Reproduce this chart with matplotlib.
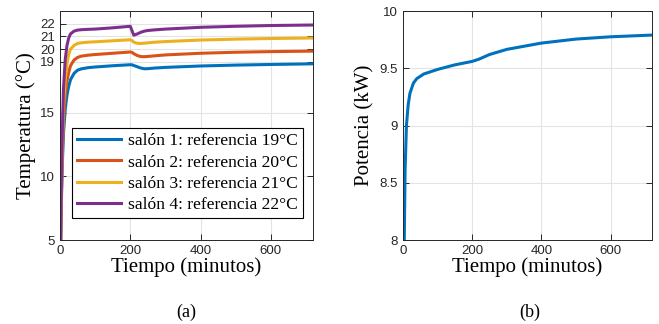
# Temperaturas de los salones y potencia total (a) y (b)

import numpy as np
import matplotlib.pyplot as plt

# tiempo (minutos) para las temperaturas
t_temp = [2, 4, 7, 10, 15, 20, 25, 30, 40, 50, 60, 80, 100, 150, 200,
          205, 210, 220, 230, 240, 250, 270, 300, 400, 500, 600, 720]

salon1 = [5, 8.0, 11.2, 13.4, 15.3, 16.4, 17.1, 17.6, 18.1, 18.35, 18.45, 18.55, 18.6, 18.7, 18.78,
          18.77, 18.72, 18.62, 18.52, 18.46, 18.47, 18.52, 18.57, 18.68, 18.75, 18.8, 18.85]
salon2 = [5, 8.5, 12.0, 14.5, 16.4, 17.5, 18.2, 18.7, 19.15, 19.35, 19.45, 19.53, 19.58, 19.68, 19.78,
          19.75, 19.65, 19.5, 19.42, 19.41, 19.43, 19.48, 19.55, 19.68, 19.76, 19.81, 19.85]
salon3 = [5, 9.0, 12.8, 15.6, 17.6, 18.9, 19.6, 20.0, 20.3, 20.45, 20.5, 20.55, 20.58, 20.66, 20.74,
          20.68, 20.55, 20.46, 20.45, 20.47, 20.5, 20.55, 20.6, 20.72, 20.79, 20.84, 20.88]
salon4 = [5, 9.6, 13.8, 16.9, 19.2, 20.3, 20.9, 21.2, 21.42, 21.5, 21.53, 21.56, 21.58, 21.68, 21.8,
          21.45, 21.1, 21.2, 21.33, 21.42, 21.47, 21.52, 21.58, 21.72, 21.8, 21.86, 21.9]

etiquetas = ['salón 1: referencia 19°C', 'salón 2: referencia 20°C',
             'salón 3: referencia 21°C', 'salón 4: referencia 22°C']
colores = ['#0072BD', '#D95319', '#EDB120', '#7E2F8E']

# potencia total
t_pot = [3, 6, 10, 15, 20, 30, 40, 60, 80, 100, 150, 200, 220, 250, 300, 400, 500, 600, 720]
potencia = [7.8, 8.6, 9.0, 9.18, 9.28, 9.37, 9.41, 9.45, 9.47, 9.49, 9.53, 9.56, 9.58, 9.62,
            9.665, 9.72, 9.755, 9.775, 9.79]

serif = 'Liberation Serif'
sans = 'Liberation Sans'
gris = '#262626'


def estilo(ax):
    ax.grid(True, color='#e3e3e3', linewidth=0.8)
    ax.set_axisbelow(True)
    ax.tick_params(direction='in', top=True, right=True, length=4, width=0.7,
                   colors=gris, labelsize=9.5)
    for lab in ax.get_xticklabels() + ax.get_yticklabels():
        lab.set_fontfamily(sans)
    for s in ax.spines.values():
        s.set_color(gris)
        s.set_linewidth(0.7)


fig = plt.figure(figsize=(6.59, 3.24), dpi=100)

# (a) temperaturas
ax1 = fig.add_axes([0.091, 0.259, 0.384, 0.707])
for y, lab, c in zip([salon1, salon2, salon3, salon4], etiquetas, colores):
    ax1.plot(t_temp, y, color=c, linewidth=2.2, label=lab)
ax1.set_xlim(0, 720)
ax1.set_ylim(5, 23)
ax1.set_xticks([0, 200, 400, 600])
ax1.set_yticks([5, 10, 15, 19, 20, 21, 22])
estilo(ax1)
ax1.set_xlabel('Tiempo (minutos)', fontfamily=serif, fontsize=15, labelpad=0)
ax1.set_ylabel('Temperatura (°C)', fontfamily=serif, fontsize=15, labelpad=3)
leg = ax1.legend(loc='lower right', bbox_to_anchor=(0.96, 0.096), borderaxespad=0,
                 prop={'family': serif, 'size': 12.6}, handlelength=2.5,
                 borderpad=0.3, labelspacing=0.28, handletextpad=0.4,
                 fancybox=False, framealpha=1, edgecolor='black')
leg.get_frame().set_linewidth(0.8)

# (b) potencia
ax2 = fig.add_axes([0.6115, 0.259, 0.378, 0.707])
ax2.plot(t_pot, potencia, color='#0072BD', linewidth=2.2)
ax2.set_xlim(0, 720)
ax2.set_ylim(8, 10)
ax2.set_xticks([0, 200, 400, 600])
ax2.set_yticks([8, 8.5, 9, 9.5, 10])
ax2.set_yticklabels(['8', '8.5', '9', '9.5', '10'])
estilo(ax2)
ax2.set_xlabel('Tiempo (minutos)', fontfamily=serif, fontsize=15, labelpad=0)
ax2.set_ylabel('Potencia (kW)', fontfamily=serif, fontsize=15, labelpad=4)

fig.text(0.283, 0.035, '(a)', fontfamily=serif, fontsize=13, ha='center', va='center')
fig.text(0.804, 0.035, '(b)', fontfamily=serif, fontsize=13, ha='center', va='center')

fig.savefig('out.png', dpi=100)
